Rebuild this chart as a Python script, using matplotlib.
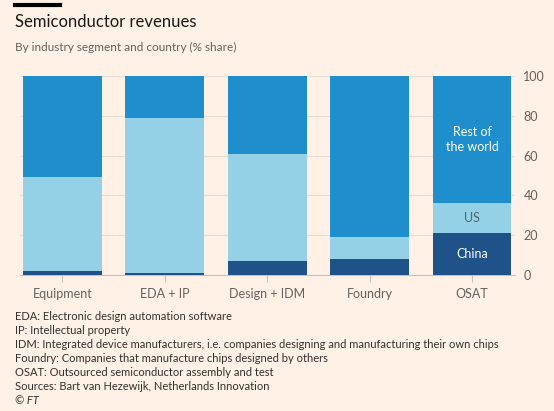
import matplotlib
matplotlib.use("agg")
import matplotlib.pyplot as plt
import numpy as np

plt.rcParams.update({
    "font.family": ["Lato", "DejaVu Sans"],
})

BG = "#fff1e5"
CHINA = "#1e5288"
US = "#95d1e6"
ROW = "#1f8ecd"
GRID = "#e8ddd3"
TEXT = "#66605c"

segments = ["Equipment", "EDA + IP", "Design + IDM", "Foundry", "OSAT"]
china = [2, 1, 7, 8, 21]
us = [47, 78, 54, 11, 15]
rest = [51, 21, 39, 81, 64]

notes = [
    "EDA: Electronic design automation software",
    "IP: Intellectual property",
    "IDM: Integrated device manufacturers, i.e. companies designing and manufacturing their own chips",
    "Foundry: Companies that manufacture chips designed by others",
    "OSAT: Outsourced semiconductor assembly and test",
    "Sources: Bart van Hezewijk, Netherlands Innovation",
]

W, H = 554, 411
fig = plt.figure(figsize=(W / 100, H / 100), dpi=100, facecolor=BG)

ax = fig.add_axes([20 / W, 1 - 275 / H, (515 - 20) / W, (275 - 76) / H])
ax.set_facecolor(BG)

x = np.arange(len(segments))
china = np.array(china)
us = np.array(us)
rest = np.array(rest)
bw = 0.77
ax.bar(x, china, bw, color=CHINA, zorder=3)
ax.bar(x, us, bw, bottom=china, color=US, zorder=3)
ax.bar(x, rest, bw, bottom=china + us, color=ROW, zorder=3)

ax.set_xlim(-0.413, 4.42)
ax.set_ylim(0, 100)
ax.set_yticks([0, 20, 40, 60, 80, 100])
ax.yaxis.tick_right()
ax.grid(axis="y", color=GRID, lw=0.8, zorder=0)
ax.tick_params(axis="y", length=0, pad=6, labelsize=9, labelcolor=TEXT)
ax.set_xticks(x)
ax.set_xticklabels(segments)
ax.tick_params(axis="x", length=5, color="#ccc1b7", width=0.8, pad=4,
               labelsize=9, labelcolor=TEXT)
for sp in ("top", "right", "left"):
    ax.spines[sp].set_visible(False)
ax.spines["bottom"].set_color("#ccc1b7")
ax.spines["bottom"].set_linewidth(0.8)

# labels in the OSAT bar
i = len(segments) - 1
ax.text(i, china[i] + us[i] + 32, "Rest of\nthe world", ha="center", va="center",
        color="white", fontsize=9, linespacing=1.25, zorder=5)
ax.text(i, china[i] + us[i] / 2, "US", ha="center", va="center",
        color="#55606a", fontsize=9, zorder=5)
ax.text(i, china[i] / 2, "China", ha="center", va="center",
        color="white", fontsize=9, zorder=5)

# header
fig.add_artist(plt.Line2D([15 / W, 60 / W], [1 - 5 / H, 1 - 5 / H],
                          color="black", lw=3))
fig.text(15 / W, 1 - 22 / H, "Semiconductor revenues", fontsize=12,
         color="#1a1817", va="center")
fig.text(15 / W, 1 - 47 / H, "By industry segment and country (% share)",
         fontsize=8.5, color=TEXT, va="center")

for k, line in enumerate(notes):
    fig.text(15 / W, 1 - (316 + k * 14) / H, line, fontsize=8,
             color="#33302e", va="center")
fig.text(15 / W, 1 - (316 + 6 * 14) / H, "© FT", fontsize=8,
         color="#33302e", va="center", style="italic")

fig.savefig("out.png", dpi=100, facecolor=BG)
